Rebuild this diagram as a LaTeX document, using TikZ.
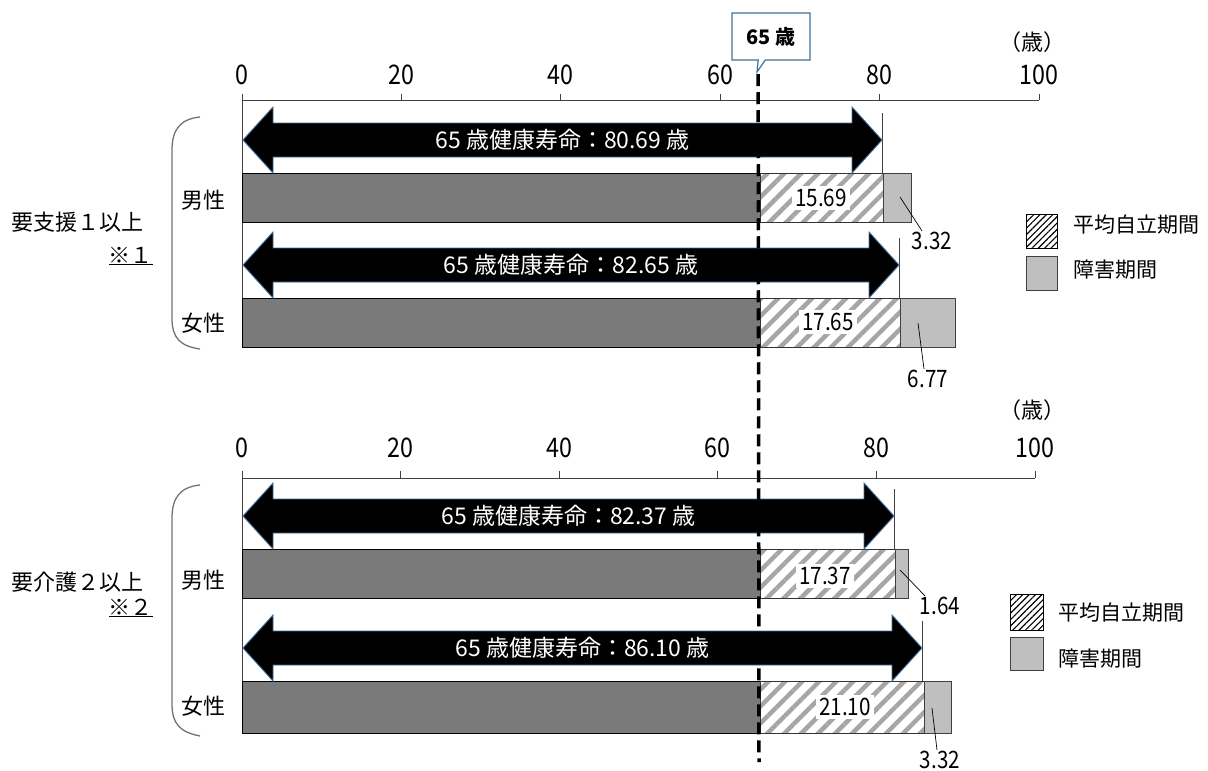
\documentclass[tikz,border=0pt]{standalone}
\usepackage{fontspec}
\setmainfont{Noto Sans CJK JP}
\newfontfamily\numfont[FakeStretch=0.86]{Noto Sans CJK JP}
\usetikzlibrary{patterns.meta,shapes.callouts,positioning}
\definecolor{callblue}{HTML}{41719C}
\definecolor{lossgray}{HTML}{BFBFBF}
\tikzset{
  basebar/.style={draw=black, line width=0.8pt, fill=black!52},
  selfbar/.style={draw=black!80, line width=0.8pt, pattern={Lines[angle=45,distance=12pt,line width=4.5pt]}, pattern color=black!35},
  lossbar/.style={draw=black!75, line width=0.8pt, fill=lossgray},
  keyhatch/.style={draw=black, line width=1pt, pattern={Lines[angle=45,distance=4.5pt,line width=1.1pt]}, pattern color=black},
  lifearrow/.style={fill=black, draw=callblue, line width=0.9pt},
  endline/.style={draw=black!75, line width=1pt},
  axisline/.style={draw=black!75, line width=1pt},
  leader/.style={draw=black, line width=0.7pt},
  brace/.style={draw=black!55, line width=1.3pt},
  arrowtext/.style={text=white, font=\fontsize{23}{23}\selectfont, inner sep=0pt},
  ticklabel/.style={font=\fontsize{27}{27}\numfont, inner sep=0pt},
  vallabel/.style={fill=white, inner sep=3pt, font=\fontsize{24}{24}\numfont},
  losslabel/.style={inner sep=1pt, font=\fontsize{24}{24}\numfont},
  sidelabel/.style={font=\fontsize{22}{22}\selectfont, inner sep=0pt},
  keylabel/.style={font=\fontsize{21}{21}\selectfont, inner sep=0pt, anchor=west}
}
\begin{document}
\begin{tikzpicture}[x=1pt,y=-1pt]
\useasboundingbox (0,0) rectangle (1208,771);

% axes
\draw[axisline] (242,100) -- (1039,100);
\draw[axisline] (242,100) -- (242,347);
\draw[axisline] (242,478) -- (1035,478);
\draw[axisline] (242,478) -- (242,733);
\foreach \v in {0,20,...,100} {
  \draw[axisline] ({242+7.97*\v},100) -- ++(0,-6);
  \node[ticklabel] (ta\v) at ({242+7.97*\v},75) {\v};
  \draw[axisline] ({242+7.93*\v},478) -- ++(0,-7);
  \node[ticklabel] (tb\v) at ({242+7.93*\v},448) {\v};
}
\node[sidelabel] (unit1) at (1032,42) {（歳）};
\node[sidelabel] (unit2) at (1032,410) {（歳）};

% bars
\draw[basebar] (242,173) rectangle (760,222);
\draw[selfbar] (760,173) rectangle (883,222);
\draw[lossbar] (883,173) rectangle (911,222);
\draw[basebar] (242,298) rectangle (760,347);
\draw[selfbar] (760,298) rectangle (900,347);
\draw[lossbar] (900,298) rectangle (955,347);
\draw[basebar] (242,549) rectangle (760,598);
\draw[selfbar] (760,549) rectangle (895,598);
\draw[lossbar] (895,549) rectangle (908,598);
\draw[basebar] (242,681) rectangle (760,733);
\draw[selfbar] (760,681) rectangle (924,733);
\draw[lossbar] (924,681) rectangle (951,733);

% health expectancy arrows
\foreach \yc/\xe/\nm/\txt in {140/882/am1/80.69, 265/899/af1/82.65, 516/894/am2/82.37, 648/922/af2/86.10} {
  \draw[endline] (\xe,\yc-27) -- (\xe,\yc+33);
  \draw[lifearrow] (243,\yc) -- (273,\yc-33) -- (273,\yc-17) -- (\xe-30,\yc-17) -- (\xe-30,\yc-33)
    -- (\xe,\yc) -- (\xe-30,\yc+33) -- (\xe-30,\yc+17) -- (273,\yc+17) -- (273,\yc+33) -- cycle;
  \node[arrowtext] (\nm) at ({(243+\xe)/2},\yc) {65 歳健康寿命：\txt\ 歳};
}

% values
\node[vallabel] (vm1) at (821,198) {15.69};
\node[vallabel] (vf1) at (828,322) {17.65};
\node[vallabel] (vm2) at (825,576) {17.37};
\node[vallabel] (vf2) at (845,707) {21.10};
\node[losslabel] (lm1) at (932,241) {3.32};
\node[losslabel] (lf1) at (928,379) {6.77};
\node[losslabel] (lm2) at (940,606) {1.64};
\node[losslabel] (lf2) at (940,760) {3.32};
\coordinate (pm1) at (900,197);
\coordinate (pf1) at (918,323);
\coordinate (pm2) at (900,570);
\coordinate (pf2) at (932,708);
\draw[leader] (pm1) -- ([xshift=-10pt]lm1.north);
\draw[leader] (pf1) -- ([xshift=-4pt]lf1.north);
\draw[leader] (pm2) -- ([xshift=-15pt]lm2.north);
\draw[leader] (pf2) -- ([xshift=-3pt]lf2.north);

% 65 marker
\node[rectangle callout, draw=callblue, fill=white, line width=1.2pt, minimum width=78pt, minimum height=47pt,
  callout absolute pointer={(757,72)}, font=\fontsize{20}{20}\selectfont\bfseries] (c65) at (771,36.5) {65 歳};
\coordinate (mark65) at (759,762);
\draw[line width=3.5pt, dash pattern=on 12pt off 6pt] ([xshift=2pt]c65.pointer) -- (mark65);

% group labels
\draw[brace] (200,117) .. controls (180,119) and (172,130) .. (172,150) -- (172,318) .. controls (172,338) and (180,346) .. (200,349);
\draw[brace] (200,485) .. controls (180,487) and (172,498) .. (172,518) -- (172,704) .. controls (172,724) and (180,732) .. (200,736);
\node[sidelabel] (g1) at (78,222) {要支援１以上};
\node[sidelabel, anchor=east] (n1) at (153,256) {\underline{※１}};
\node[sidelabel] (g2) at (78,582) {要介護２以上};
\node[sidelabel, anchor=east] (n2) at (153,608) {\underline{※２}};
\node[sidelabel] (m1) at (203,200) {男性};
\node[sidelabel] (f1) at (203,323) {女性};
\node[sidelabel] (m2) at (203,580) {男性};
\node[sidelabel] (f2) at (203,706) {女性};

% legends
\draw[keyhatch] (1026,214) rectangle (1057,248);
\node[keylabel] (k1) at (1073,225) {平均自立期間};
\draw[lossbar] (1026,256) rectangle (1057,290);
\node[keylabel] (k2) at (1073,270) {障害期間};
\draw[keyhatch] (1010,594) rectangle (1043,630);
\node[keylabel] (k3) at (1058,613) {平均自立期間};
\draw[lossbar] (1010,637) rectangle (1043,670);
\node[keylabel] (k4) at (1058,659) {障害期間};
\end{tikzpicture}
\end{document}
